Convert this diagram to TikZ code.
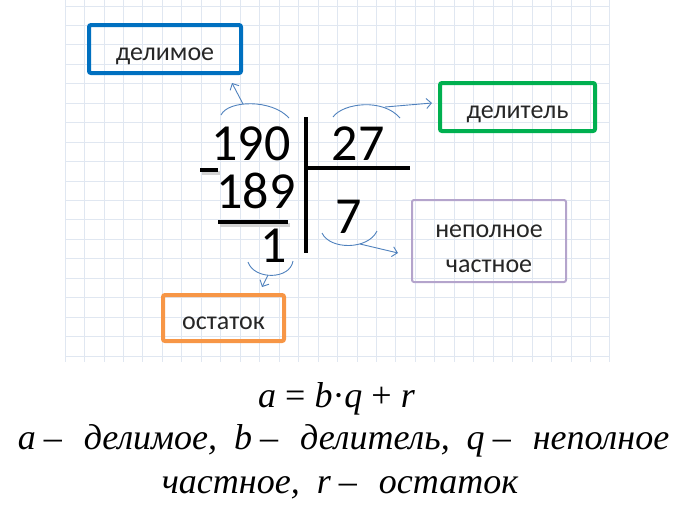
\documentclass[tikz,border=0pt]{standalone}
\usepackage{fontspec}
\setmainfont{Liberation Serif}
\newfontfamily\labelfont{Carlito}
\usetikzlibrary{positioning,arrows.meta}

\definecolor{gridcol}{RGB}{224,231,241}
\definecolor{dividendcol}{RGB}{0,112,192}
\definecolor{divisorcol}{RGB}{0,176,80}
\definecolor{quotientcol}{RGB}{180,164,204}
\definecolor{remaindercol}{RGB}{247,150,70}
\definecolor{pointercol}{RGB}{79,129,189}

\tikzset{
  termbox/.style={draw=#1, line width=4, rounded corners=2,
    inner sep=0, text=black!85,
    font=\labelfont\fontsize{26}{35}\selectfont},
  oneline/.style={text height=22pt, text depth=0pt},
  digit/.style={anchor=base, inner sep=0, font=\labelfont\fontsize{52}{52}\selectfont},
  rule/.style={line width=4},
  ruleshade/.style={line width=4, gray!35, shift={(1.5,2.5)}},
  pointer/.style={pointercol, line width=0.9},
  formula/.style={anchor=base, inner sep=0, font=\itshape\fontsize{36}{40}\selectfont}
}
\newcommand{\dashgap}{\hspace{8pt}\textup{–}\hspace{22pt}}
\newcommand{\commagap}{,\hspace{17pt}}

\begin{document}
\begin{tikzpicture}[x=1pt, y=-1pt]
  \useasboundingbox (0,0) rectangle (687,517);

  % squared paper
  \foreach \i in {0,...,28}
    \draw[gridcol, line width=0.8] (65+19.46*\i,0) -- (65+19.46*\i,362);
  \foreach \j in {0,...,18}
    \draw[gridcol, line width=0.8] (65,6+19.44*\j) -- (610,6+19.44*\j);

  % the division
  \node[digit] (n190) at (251,160) {190};
  \node[digit] (n27) at (358,160) {27};
  \node[digit] (n189) at (256,208) {189};
  \node[digit] (n1) at (274,262) {1};
  \node[digit] (n7) at (349,233) {7};

  \coordinate (bartop) at (306,117);
  \coordinate (barbot) at (306,253);
  \coordinate (barend) at (410,168);
  \foreach \s in {ruleshade, rule} {
    \draw[\s] (bartop) -- (barbot);
    \draw[\s] (bartop |- barend) -- (barend);
    \draw[\s] (200,170) -- (218,170);
    \draw[\s] (218,222) -- (288,222);
  }

  % the names
  \node[termbox=dividendcol, oneline, minimum width=152, minimum height=48]
    (dividend) at (165,49) {делимое};
  \node[termbox=divisorcol, oneline, minimum width=155, minimum height=48]
    (divisor) at (517.5,107) {делитель};
  \node[termbox=quotientcol, line width=2, align=center, minimum width=154, minimum height=82]
    (quotient) at (489,241) {\rule{0pt}{29pt}неполное\\частное};
  \node[termbox=remaindercol, oneline, minimum width=121, minimum height=46]
    (remainder) at (223.5,318) {остаток};

  % pointers
  \coordinate (d1) at (243,104);
  \coordinate (d2) at (232,83);
  \draw[pointer] (221,115) .. controls (228,100) and (272,99) .. (289,118);
  \draw[pointer, -{Straight Barb[length=5pt]}] (d1) -- (d2);

  \coordinate (v1) at (385,107);
  \coordinate (v2) at (432,103);
  \draw[pointer] (333,117) .. controls (343,103) and (383,98) .. (400,118);
  \draw[pointer, -{Straight Barb[length=5pt]}] (v1) -- (v2);

  \coordinate (q1) at (360,244);
  \coordinate (q2) at (398,253);
  \draw[pointer] (322,233) .. controls (330,250) and (368,250) .. (377,231);
  \draw[pointer, -{Straight Barb[length=5pt]}] (q1) -- (q2);

  \coordinate (r1) at (268,275);
  \coordinate (r2) at (262,287);
  \draw[pointer] (248,262) .. controls (254,280) and (290,280) .. (293,261);
  \draw[pointer, -{Straight Barb[length=5pt]}] (r1) -- (r2);

  % the rule in words
  \node[formula] (eq) at (336.5,407) {a \textup{=} b\textup{·}q \textup{+} r};
  \node[formula] (line2) at (343.5,449)
    {a\dashgap делимое\commagap b\dashgap делитель\commagap q\dashgap неполное};
  \node[formula] (line3) at (340,493) {частное\commagap r\dashgap остаток};
\end{tikzpicture}
\end{document}
